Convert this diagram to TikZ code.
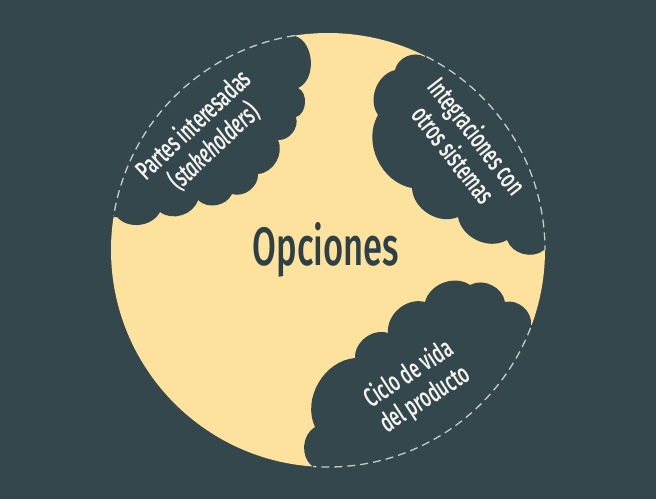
\documentclass[tikz,border=0pt]{standalone}
\usepackage{fontspec}
\setmainfont{Fira Sans}[FakeStretch=0.64, UprightFont=* Medium, ItalicFont=* Medium Italic]
\definecolor{slate}{RGB}{52,71,76}
\definecolor{ink}{RGB}{46,64,70}
\definecolor{sun}{RGB}{252,226,156}
\definecolor{dashgrey}{RGB}{196,204,206}
\definecolor{cloudwhite}{RGB}{244,244,242}
\begin{document}
\begin{tikzpicture}[x=1pt,y=-1pt,
  puff/.style={fill=slate},
  rim/.style={draw=dashgrey, line width=1.3pt, dash pattern=on 8pt off 5pt},
  cloudtext/.style={text=cloudwhite, align=center, inner sep=0pt,
    font=\fontsize{27}{30}\selectfont},
  bl/.style={bend left=55},
  br/.style={bend right=55}]
\fill[slate] (0,0) rectangle (656,499);
\useasboundingbox (0,0) rectangle (656,499);
\coordinate (o) at (328,250);
\fill[sun] (o) circle[radius=217];

% upper left puff
\fill[puff] (295,36) to[bend left=70] (298,88) to[bend left=70] (296,117) to[bl] (278,140)
  to[bl] (258,174) to[bl] (232,194) to[bl] (198,200) to[bl] (160,212)
  to[bl] (117,217) -- (60,217) -- (60,20) -- (295,20) -- cycle;
% upper right puff
\fill[puff] (425,57) to[br] (395,70) to[br] (378,115) to[br] (412,188)
  to[br] (458,217) to[br] (507,240) to[br] (544,250)
  -- (600,250) -- (600,20) -- (425,20) -- cycle;
% lower right puff
\fill[puff] (531,325) to[br] (505,302) to[br] (470,285) to[br] (425,302)
  to[br] (388,333) to[br] (355,358) to[br] (315,427) to[br] (312,466)
  -- (312,490) -- (600,490) -- (600,325) -- cycle;

% dashed rim over each puff
\draw[rim] (o) ++(-98.8:217) arc[start angle=-98.8, end angle=-171, radius=217];
\draw[rim] (o) ++(-63:217) arc[start angle=-63, end angle=0, radius=217];
\draw[rim] (o) ++(21:217) arc[start angle=21, end angle=94, radius=217];

\node[cloudtext, rotate=43] (stake) at (204,136)
  {Partes interesadas\\(\textit{stakeholders})};
\node[cloudtext, rotate=-52] (integ) at (466,145)
  {Integraciones con\\otros sistemas};
\node[cloudtext, rotate=33] (ciclo) at (417,387)
  {Ciclo de vida\\del producto};
\node[anchor=base, text=ink, inner sep=0pt, font=\fontsize{54}{54}\selectfont]
  (opc) at (326,265) {Opciones};
\end{tikzpicture}
\end{document}
